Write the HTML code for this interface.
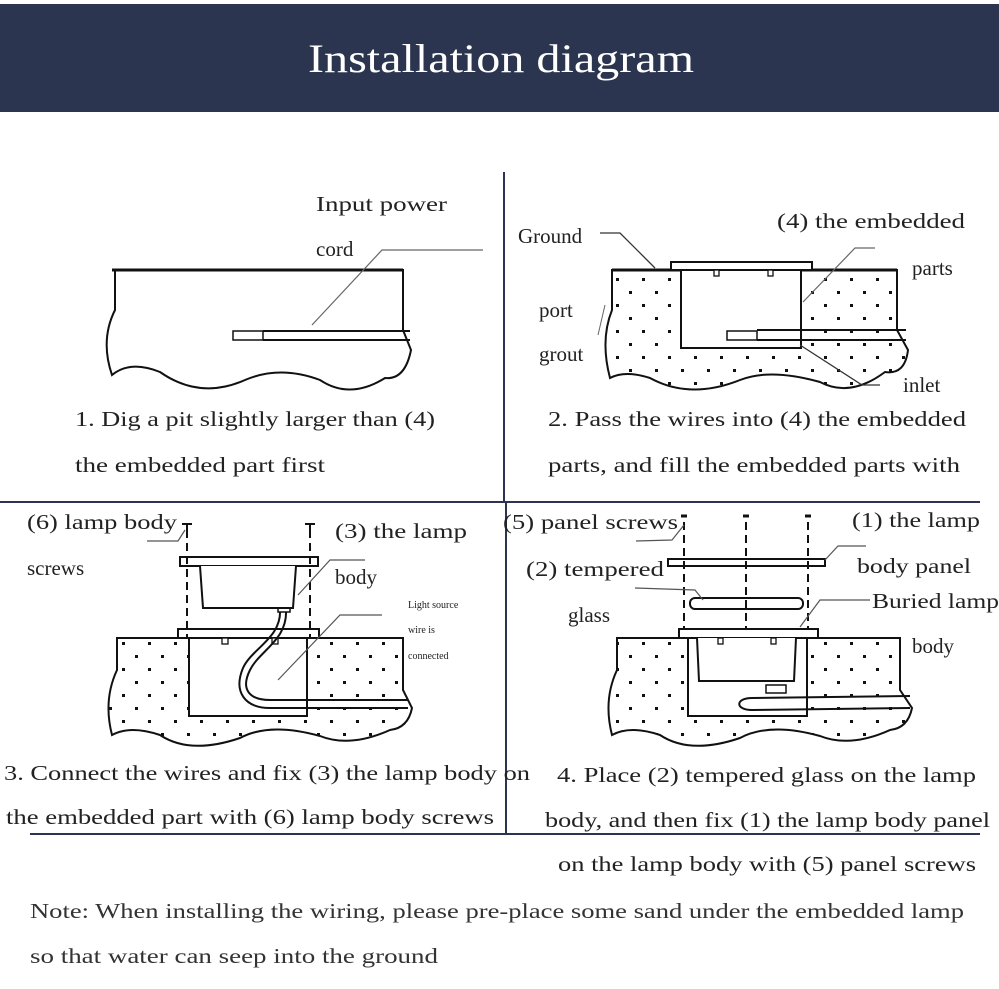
<!DOCTYPE html>
<html><head><meta charset="utf-8"><style>
html,body{margin:0;padding:0;background:#fff;width:999px;height:989px;overflow:hidden}
svg{display:block}
text{font-family:"Liberation Serif",serif;fill:#222}
</style></head><body>
<svg width="999" height="989" viewBox="0 0 999 989" xmlns="http://www.w3.org/2000/svg">
<defs>
<pattern id="dots" x="0" y="0" width="26" height="26" patternUnits="userSpaceOnUse">
<rect x="5" y="5" width="3" height="3" fill="#111"/><rect x="18" y="18" width="3" height="3" fill="#111"/>
</pattern>
</defs>
<rect x="0" y="4" width="999" height="108" fill="#2c3550"/>
<text x="501" y="72" text-anchor="middle" font-size="40" style="fill:#fff" textLength="386" lengthAdjust="spacingAndGlyphs">Installation diagram</text>

<g stroke="#2c3550" stroke-width="2" fill="none">
<line x1="504" y1="172" x2="504" y2="502"/>
<line x1="0" y1="502" x2="980" y2="502"/>
<line x1="506" y1="502" x2="506" y2="834"/>
<line x1="30" y1="834" x2="980" y2="834"/>
</g>

<!-- Panel 1 -->
<g stroke="#111" stroke-width="2" fill="#fff">
<path d="M115 270 L403 270 L403 330 L411 350 Q405 380 385 378 Q350 400 320 380 Q280 365 245 380 Q200 400 160 372 Q130 360 112 375 Q100 340 115 310 Z"/>
</g>
<line x1="112" y1="270" x2="403" y2="270" stroke="#111" stroke-width="3"/>
<rect x="233" y="331" width="30" height="9" fill="#fff" stroke="#111" stroke-width="1.5"/>
<path d="M263 331 L410 331 M263 340 L410 340" stroke="#111" stroke-width="2"/>
<path d="M312 325 L382 250 L483 250" stroke="#666" stroke-width="1.2" fill="none"/>
<text x="316" y="211" font-size="21" textLength="131" lengthAdjust="spacingAndGlyphs">Input power</text>
<text x="316" y="256" font-size="21">cord</text>
<text x="75" y="426" font-size="21" textLength="360" lengthAdjust="spacingAndGlyphs">1. Dig a pit slightly larger than (4)</text>
<text x="75" y="472" font-size="21" textLength="250" lengthAdjust="spacingAndGlyphs">the embedded part first</text>

<!-- Panel 2 -->
<path d="M612 270 L897 270 L897 330 L908 350 Q905 375 885 372 Q850 398 820 382 Q770 368 740 380 Q690 400 650 378 Q625 370 610 378 Q600 340 612 310 Z" fill="url(#dots)" stroke="#111" stroke-width="2"/>
<line x1="612" y1="270" x2="897" y2="270" stroke="#111" stroke-width="3"/>
<rect x="681" y="270" width="120" height="78" fill="#fff" stroke="#111" stroke-width="2"/>
<rect x="671" y="262" width="141" height="8" fill="#fff" stroke="#111" stroke-width="2"/>
<rect x="714" y="270" width="5" height="6" fill="#fff" stroke="#111" stroke-width="1.3"/>
<rect x="768" y="270" width="5" height="6" fill="#fff" stroke="#111" stroke-width="1.3"/>
<rect x="727" y="331" width="30" height="9" fill="#fff" stroke="#111" stroke-width="1.5"/>
<path d="M757 330 L906 330 M757 340 L906 340" stroke="#111" stroke-width="2"/>
<path d="M600 233 L620 233 L655 268" stroke="#333" stroke-width="1.3" fill="none"/>
<path d="M803 302 L855 248 L875 248" stroke="#666" stroke-width="1.2" fill="none"/>
<path d="M800 345 L862 385 L880 385" stroke="#333" stroke-width="1.3" fill="none"/>
<path d="M605 305 L598 335" stroke="#666" stroke-width="1" fill="none"/>
<text x="518" y="243" font-size="21">Ground</text>
<text x="777" y="228" font-size="21" textLength="188" lengthAdjust="spacingAndGlyphs">(4) the embedded</text>
<text x="912" y="275" font-size="21">parts</text>
<text x="539" y="317" font-size="21">port</text>
<text x="539" y="361" font-size="21">grout</text>
<text x="903" y="392" font-size="21">inlet</text>
<text x="548" y="426" font-size="21" textLength="418" lengthAdjust="spacingAndGlyphs">2. Pass the wires into (4) the embedded</text>
<text x="548" y="472" font-size="21" textLength="412" lengthAdjust="spacingAndGlyphs">parts, and fill the embedded parts with</text>

<!-- Panel 3 -->
<path d="M117 638 L403 638 L403 690 L412 708 Q408 728 390 730 Q350 748 320 736 Q270 722 240 738 Q190 755 160 735 Q130 725 112 735 Q103 700 117 670 Z" fill="url(#dots)" stroke="#111" stroke-width="2"/>
<rect x="189" y="638" width="118" height="78" fill="#fff" stroke="#111" stroke-width="2"/>
<rect x="178" y="629" width="141" height="9" fill="#fff" stroke="#111" stroke-width="2"/>
<rect x="222" y="638" width="6" height="6" fill="#fff" stroke="#111" stroke-width="1.3"/>
<rect x="272" y="638" width="6" height="6" fill="#fff" stroke="#111" stroke-width="1.3"/>
<path d="M286 609 C288 640 260 650 250 670 C240 690 250 700 270 700 L408 700 M280 609 C282 638 252 648 243 668 C233 692 245 708 270 708 L408 708" stroke="#111" stroke-width="2" fill="none"/>
<rect x="278" y="607" width="12" height="5" fill="#fff" stroke="#111" stroke-width="1.5"/>
<rect x="180" y="557" width="138" height="9" fill="#fff" stroke="#111" stroke-width="2"/>
<path d="M200 566 L203 608 L293 608 L296 566" fill="#fff" stroke="#111" stroke-width="2"/>
<path d="M187 530 L187 638 M310 530 L310 638" stroke="#111" stroke-width="2" stroke-dasharray="8,5" fill="none"/>
<path d="M182 524 L192 524 M187 524 L187 530 M305 524 L315 524 M310 524 L310 530" stroke="#111" stroke-width="2"/>
<path d="M147 541 L178 541 L185 530" stroke="#555" stroke-width="1.2" fill="none"/>
<path d="M298 595 L330 560 L365 560" stroke="#555" stroke-width="1.2" fill="none"/>
<path d="M278 680 L340 615 L382 615" stroke="#555" stroke-width="1.2" fill="none"/>
<text x="27" y="529" font-size="21" textLength="150" lengthAdjust="spacingAndGlyphs">(6) lamp body</text>
<text x="27" y="575" font-size="21">screws</text>
<text x="335" y="538" font-size="21" textLength="132" lengthAdjust="spacingAndGlyphs">(3) the lamp</text>
<text x="335" y="584" font-size="21">body</text>
<text x="408" y="608" font-size="10">Light source</text>
<text x="408" y="633" font-size="10">wire is</text>
<text x="408" y="659" font-size="10">connected</text>
<text x="4" y="780" font-size="21" textLength="526" lengthAdjust="spacingAndGlyphs">3. Connect the wires and fix (3) the lamp body on</text>
<text x="6" y="824" font-size="21" textLength="488" lengthAdjust="spacingAndGlyphs">the embedded part with (6) lamp body screws</text>

<!-- Panel 4 -->
<path d="M617 638 L900 638 L900 690 L912 708 Q908 728 890 730 Q850 748 820 736 Q770 722 740 738 Q690 755 660 735 Q630 725 612 735 Q603 700 617 670 Z" fill="url(#dots)" stroke="#111" stroke-width="2"/>
<rect x="688" y="638" width="119" height="78" fill="#fff" stroke="#111" stroke-width="2"/>
<rect x="679" y="629" width="139" height="9" fill="#fff" stroke="#111" stroke-width="2"/>
<path d="M697 638 L699 681 L794 681 L796 638" fill="#fff" stroke="#111" stroke-width="2"/>
<rect x="718" y="638" width="5" height="6" fill="#fff" stroke="#111" stroke-width="1.3"/>
<rect x="771" y="638" width="5" height="6" fill="#fff" stroke="#111" stroke-width="1.3"/>
<path d="M910 696 L752 698 C735 698 735 710 752 710 L910 708" stroke="#111" stroke-width="2" fill="none"/>
<rect x="766" y="685" width="20" height="8" fill="#fff" stroke="#111" stroke-width="1.5"/>
<rect x="690" y="598" width="113" height="11" rx="5" fill="#fff" stroke="#111" stroke-width="2"/>
<rect x="668" y="559" width="157" height="7" fill="#fff" stroke="#111" stroke-width="2"/>
<path d="M684 522 L684 628 M746 522 L746 628 M808 522 L808 628" stroke="#111" stroke-width="2" stroke-dasharray="8,5" fill="none"/>
<path d="M681 516 L687 516 M743 516 L749 516 M805 516 L811 516" stroke="#111" stroke-width="3"/>
<path d="M636 541 L672 540 L684 525" stroke="#555" stroke-width="1.2" fill="none"/>
<path d="M825 560 L838 546 L866 546" stroke="#555" stroke-width="1.2" fill="none"/>
<path d="M635 588 L695 590 L703 600" stroke="#555" stroke-width="1.2" fill="none"/>
<path d="M800 627 L820 600 L870 600" stroke="#555" stroke-width="1.2" fill="none"/>
<text x="503" y="529" font-size="21" textLength="175" lengthAdjust="spacingAndGlyphs">(5) panel screws</text>
<text x="526" y="576" font-size="21" textLength="138" lengthAdjust="spacingAndGlyphs">(2) tempered</text>
<text x="568" y="622" font-size="21">glass</text>
<text x="852" y="527" font-size="21" textLength="128" lengthAdjust="spacingAndGlyphs">(1) the lamp</text>
<text x="857" y="573" font-size="21" textLength="114" lengthAdjust="spacingAndGlyphs">body panel</text>
<text x="872" y="608" font-size="21" textLength="127" lengthAdjust="spacingAndGlyphs">Buried lamp</text>
<text x="912" y="653" font-size="21">body</text>
<text x="557" y="782" font-size="21" textLength="419" lengthAdjust="spacingAndGlyphs">4. Place (2) tempered glass on the lamp</text>
<text x="545" y="827" font-size="21" textLength="445" lengthAdjust="spacingAndGlyphs">body, and then fix (1) the lamp body panel</text>
<text x="558" y="871" font-size="21" textLength="418" lengthAdjust="spacingAndGlyphs">on the lamp body with (5) panel screws</text>

<text x="30" y="918" font-size="21" textLength="934" lengthAdjust="spacingAndGlyphs" style="fill:#333">Note: When installing the wiring, please pre-place some sand under the embedded lamp</text>
<text x="30" y="963" font-size="21" textLength="408" lengthAdjust="spacingAndGlyphs" style="fill:#333">so that water can seep into the ground</text>
</svg>
</body></html>
